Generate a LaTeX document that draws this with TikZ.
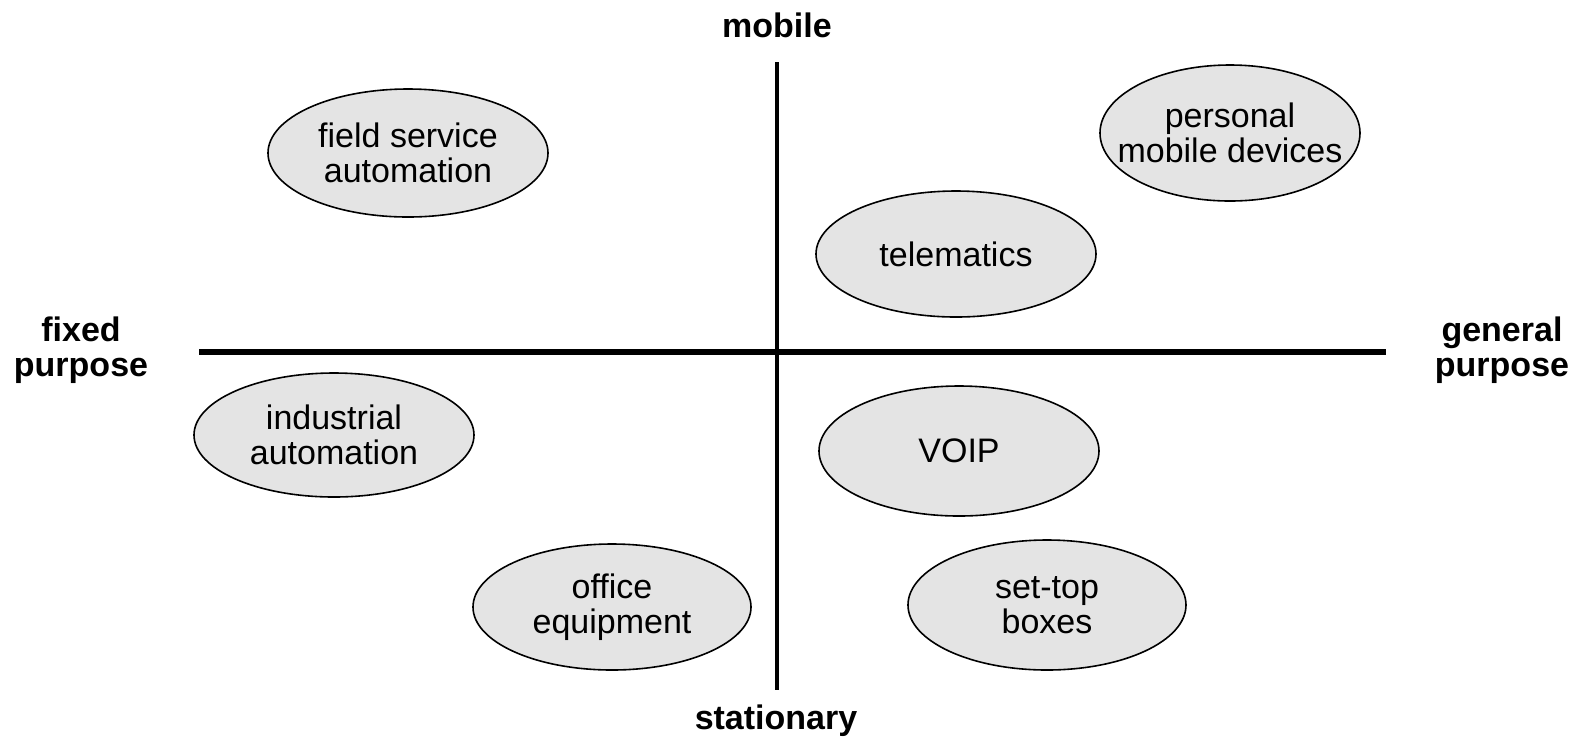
\documentclass[tikz,border=0pt]{standalone}
\usepackage{fontspec}
\setmainfont{Liberation Sans}
\usetikzlibrary{shapes.geometric,positioning}
\definecolor{BubbleGray}{HTML}{E4E4E4}

\begin{document}
\begin{tikzpicture}[x=0.5pt, y=-0.5pt,
    every node/.style={font=\fontsize{17}{17.5}\selectfont, align=center},
    bubble/.style={ellipse, draw=black, line width=0.8pt, fill=BubbleGray, inner sep=-20pt},
    axislabel/.style={font=\fontsize{17}{17.5}\selectfont\bfseries}]
    \useasboundingbox (0,0) rectangle (1581,736);

    % Axes
    \coordinate (west) at (199,352);
    \coordinate (east) at (1386,352);
    \coordinate (north) at (777,62);
    \coordinate (south) at (777,690);
    \draw[line width=3pt] (west) -- (east);
    \draw[line width=1.6pt] (north) -- (south);

    % Axis labels
    \node[axislabel] (mobile) at (777,25) {mobile};
    \node[axislabel] (stationary) at (776,721) {stationary};
    \node[axislabel] (fixed) at (81,350) {fixed\\purpose};
    \node[axislabel] (general) at (1502,350) {general\\purpose};

    % Application areas
    \node[bubble, minimum width=140pt, minimum height=64pt] (field) at (408,153) {field service\\automation};
    \node[bubble, minimum width=130pt, minimum height=68pt] (personal) at (1230,133) {personal\\mobile devices};
    \node[bubble, minimum width=140pt, minimum height=63pt] (telematics) at (956,254) {telematics};
    \node[bubble, minimum width=140pt, minimum height=62pt] (industrial) at (334,435) {industrial\\automation};
    \node[bubble, minimum width=140pt, minimum height=65pt] (voip) at (959,451) {VOIP};
    \node[bubble, minimum width=139pt, minimum height=63pt] (office) at (612,607) {office\\equipment};
    \node[bubble, minimum width=139pt, minimum height=65pt] (settop) at (1047,605) {set-top\\boxes};
\end{tikzpicture}
\end{document}
